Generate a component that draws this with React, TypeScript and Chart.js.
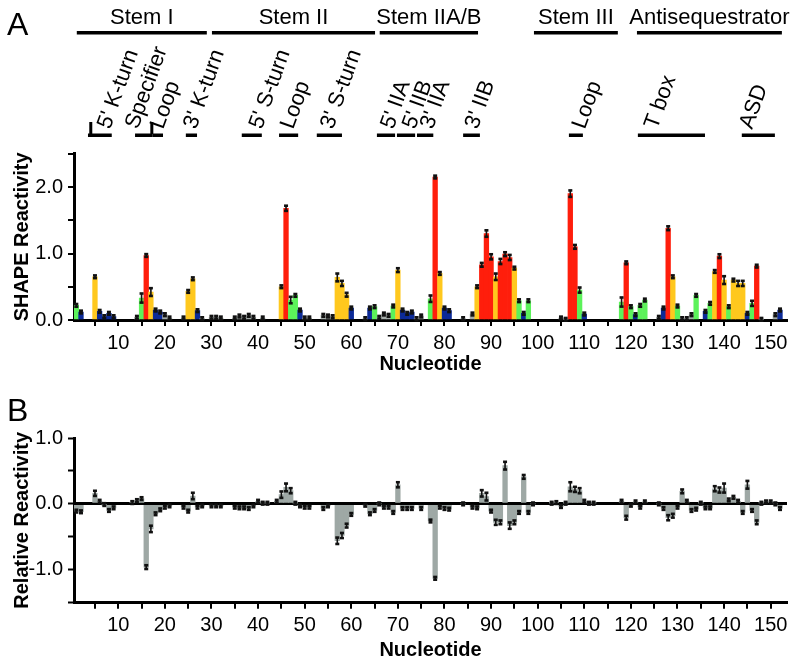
import React, { useEffect, useRef } from 'react';
import { Chart, registerables } from 'chart.js';
Chart.register(...registerables);

const FONT = "'Liberation Sans', Arial, Helvetica, sans-serif";

const nucleotides: string[] = Array.from({ length: 153 }, (_, i) => String(i + 1));

// Panel A: SHAPE reactivity per nucleotide (null = no data)
const shapeReactivity: (number | null)[] = [
  0.22, 0.12, null, null, 0.65, 0.13, 0.05, 0.10, 0.05, null,
  null, null, null, 0.04, 0.33, 0.97, 0.42, 0.15, 0.12, 0.08,
  0.03, null, null, 0.03, 0.43, 0.62, 0.14, 0.02, null, 0.04,
  0.04, 0.03, null, null, 0.03, 0.06, 0.04, 0.07, 0.04, null,
  0.03, null, null, null, 0.50, 1.68, 0.30, 0.37, 0.15, 0.03,
  0.03, null, null, 0.07, 0.06, 0.05, 0.64, 0.55, 0.38, 0.18,
  null, null, 0.02, 0.18, 0.20, 0.04, 0.09, 0.07, 0.21, 0.75,
  0.15, 0.10, 0.12, 0.02, 0.06, null, 0.32, 2.15, 0.70, 0.18,
  0.14, null, null, 0.02, null, 0.09, 0.50, 0.83, 1.30, 0.95,
  0.65, 0.88, 0.99, 0.94, 0.78, 0.29, 0.10, 0.29, null, null,
  null, null, null, null, 0.03, 0.01, 1.90, 1.10, 0.45, 0.09,
  null, null, null, null, null, null, null, 0.27, 0.86, 0.20,
  0.08, 0.22, 0.30, null, null, 0.04, 0.18, 1.38, 0.65, 0.21,
  0.02, 0.02, 0.08, 0.37, null, 0.13, 0.25, 0.73, 0.96, 0.60,
  0.20, 0.60, 0.55, 0.55, 0.10, 0.25, 0.81, 0.01, null, null,
  0.08, 0.15, null,
];

// reactivity class per nucleotide: R high, Y medium, G low, B very low, K unclassified
const reactivityClass =
  'GB--YBBBB-' + '---KGRYBBK' + 'K--KYYBK-K' + 'KK--KKKKK-' + 'K---YRGGBK' +
  'K--KKKYYYB' + '--KBGKKKGY' + 'BBBKK-GRYB' + 'B--K-KYRRR' + 'YRRRYGBG--' +
  '----KKRRGB' + '-------GRG' + 'BGG--KBRYG' + 'KKKG-BGYRY' + 'GYYYBGRK--' + 'KB-';

const classColors: Record<string, string> = {
  R: '#ff1e0c',
  Y: '#ffc81e',
  G: '#5cf25a',
  B: '#0c2a98',
  K: '#a3aba8',
  '-': '#a3aba8',
};

// Panel B: relative reactivity per nucleotide
const relativeReactivity: (number | null)[] = [
  -0.11, -0.12, null, null, 0.16, 0.04, -0.01, -0.10, -0.06, null,
  null, null, 0.02, 0.05, 0.08, -0.96, -0.38, -0.15, -0.09, -0.05,
  -0.03, null, null, -0.05, -0.11, 0.12, -0.05, -0.03, null, -0.03,
  -0.03, -0.03, null, null, -0.05, -0.06, -0.06, -0.07, -0.03, 0.04,
  0.01, 0.01, null, 0.04, 0.14, 0.25, 0.20, 0.01, -0.03, -0.05,
  -0.05, null, null, -0.07, -0.03, null, -0.56, -0.48, -0.33, -0.16,
  null, null, -0.02, -0.15, -0.10, 0.00, -0.05, -0.05, -0.13, 0.29,
  -0.07, -0.07, -0.07, null, -0.07, null, -0.26, -1.13, -0.05, -0.07,
  -0.08, null, null, 0.00, null, -0.05, -0.06, 0.16, 0.11, -0.11,
  -0.28, -0.28, 0.58, -0.33, -0.28, -0.13, 0.41, -0.13, 0.00, null,
  null, null, 0.01, 0.02, -0.04, 0.01, 0.26, 0.22, 0.20, 0.04,
  0.01, 0.01, null, null, null, null, null, 0.04, -0.21, -0.02,
  0.03, -0.05, 0.03, null, null, 0.00, -0.07, -0.21, -0.18, -0.05,
  0.19, 0.04, -0.10, -0.08, 0.01, -0.06, -0.06, 0.23, 0.21, 0.24,
  0.06, 0.10, 0.04, -0.13, 0.29, -0.10, -0.28, 0.01, 0.03, 0.03,
  0.00, -0.07, null,
];

const defaultError = 0.022;
// [nucleotide, error] for the larger error bars
const shapeErrorPairs: [number, number][] = [
  [15, 0.07], [17, 0.06], [46, 0.04], [47, 0.05], [57, 0.06], [58, 0.04], [59, 0.03],
  [70, 0.03], [77, 0.05], [88, 0.03], [89, 0.05], [90, 0.04], [91, 0.05], [92, 0.04],
  [93, 0.03], [94, 0.04], [107, 0.05], [108, 0.03], [109, 0.04], [118, 0.07], [128, 0.03],
  [139, 0.03], [140, 0.06], [143, 0.04], [144, 0.04], [146, 0.04],
];
const relativeErrorPairs: [number, number][] = [
  [5, 0.04], [16, 0.03], [17, 0.05], [26, 0.05], [45, 0.05], [46, 0.06], [47, 0.04],
  [57, 0.05], [58, 0.04], [59, 0.03], [70, 0.04], [88, 0.05], [89, 0.06], [91, 0.04],
  [92, 0.03], [93, 0.06], [94, 0.05], [95, 0.03], [97, 0.03], [107, 0.07], [108, 0.04],
  [109, 0.04], [119, 0.03], [128, 0.04], [129, 0.03], [131, 0.03], [138, 0.04],
  [139, 0.04], [140, 0.07], [145, 0.06], [147, 0.03],
];

// Domain annotations (nucleotide ranges)
const stemLabels = ['Stem I', 'Stem II', 'Stem IIA/B', 'Stem III', 'Antisequestrator'];
const stemStart = [1.1, 30.1, 66.1, 99.2, 121.3];
const stemEnd = [29.0, 65.1, 87.2, 117.2, 152.4];

const regionLabels = ["5' K-turn", 'Specifier', 'Loop', "3' K-turn", "5' S-turn", 'Loop', "3' S-turn",
  "5' IIA", "5' IIB", "3' IIA", "3' IIB", 'Loop', 'T box', 'ASD'];
const regionStart = [3.5, 13.6, 17.3, 24.5, 36.5, 44.5, 52.6, 65.5, 69.8, 74.1, 84.0, 106.7, 121.5, 143.8];
const regionEnd = [8.6, 17.3, 19.6, 26.9, 40.8, 48.6, 58.0, 69.4, 73.7, 77.6, 87.6, 109.7, 135.9, 150.9];
const regionAnchor = [8.2, 14.2, 19.6, 26.7, 40.8, 47.5, 56.1, 69.0, 73.7, 77.5, 87.1, 110.1, 125.6, 146.0];
const regionTicks = [4.1, 17.2];

function buildErrors(pairs: [number, number][]): number[] {
  const e = nucleotides.map(() => defaultError);
  pairs.forEach(([n, v]) => { e[n - 1] = v; });
  return e;
}

function errorBarPlugin(errors: number[]) {
  return {
    id: 'errorBars',
    afterDatasetsDraw(chart: any) {
      const meta = chart.getDatasetMeta(0);
      const ys = chart.scales.y;
      const ctx = chart.ctx;
      const data = chart.data.datasets[0].data as (number | null)[];
      ctx.save();
      ctx.fillStyle = '#111';
      data.forEach((v, i) => {
        if (v === null || v === undefined) return;
        const el = meta.data[i];
        if (!el) return;
        const x = el.x;
        const e = errors[i];
        const y1 = ys.getPixelForValue(v + e);
        const y2 = ys.getPixelForValue(v - e);
        ctx.fillRect(x - 0.8, y1, 1.6, y2 - y1);
        ctx.fillRect(x - 2, y1 - 1.2, 4, 2.6);
        ctx.fillRect(x - 2, y2 - 1.4, 4, 2.6);
      });
      ctx.restore();
    },
  };
}

function nucleotidePixel(chart: any, n: number) {
  const xs = chart.scales.x;
  const c0 = xs.getPixelForValue(0);
  const w = xs.getPixelForValue(1) - c0;
  return c0 + (n - 1) * w;
}

const annotationPlugin = {
  id: 'domainAnnotations',
  afterDraw(chart: any) {
    const ctx = chart.ctx;
    ctx.save();
    ctx.fillStyle = '#000';
    ctx.textBaseline = 'alphabetic';
    ctx.textAlign = 'left';
    ctx.font = `32px ${FONT}`;
    ctx.fillText('A', 7, 35);
    ctx.font = `22px ${FONT}`;
    ctx.textAlign = 'center';
    stemLabels.forEach((t, i) => {
      const a = nucleotidePixel(chart, stemStart[i]);
      const b = nucleotidePixel(chart, stemEnd[i]);
      ctx.fillRect(a, 31, b - a, 3.5);
      ctx.fillText(t, (a + b) / 2, 23.5);
    });
    ctx.textAlign = 'left';
    regionLabels.forEach((t, i) => {
      const a = nucleotidePixel(chart, regionStart[i]);
      const b = nucleotidePixel(chart, regionEnd[i]);
      ctx.fillRect(a, 133.5, b - a, 3.5);
      ctx.save();
      ctx.translate(nucleotidePixel(chart, regionAnchor[i]), 130);
      ctx.rotate((-70 * Math.PI) / 180);
      ctx.fillText(t, 0, 0);
      ctx.restore();
    });
    regionTicks.forEach((n) => {
      const x = nucleotidePixel(chart, n);
      ctx.fillRect(x - 1.5, 122, 3, 12);
    });
    ctx.restore();
  },
};

const panelBLabel = {
  id: 'panelB',
  afterDraw(chart: any) {
    const ctx = chart.ctx;
    ctx.save();
    ctx.fillStyle = '#000';
    ctx.font = `32px ${FONT}`;
    ctx.textAlign = 'left';
    ctx.textBaseline = 'alphabetic';
    ctx.fillText('B', 7, 44);
    ctx.restore();
  },
};

function xScale(height: number) {
  return {
    type: 'category' as const,
    offset: true,
    grid: {
      offset: false,
      drawOnChartArea: false,
      drawTicks: true,
      tickLength: 6,
      lineWidth: 2,
      color: (c: any) => ((c.index + 1) % 5 === 0 ? '#000' : 'rgba(0,0,0,0)'),
    },
    border: { display: true, color: '#000', width: 3 },
    ticks: {
      autoSkip: false,
      maxRotation: 0,
      minRotation: 0,
      padding: 5,
      color: '#000',
      font: { family: FONT, size: 20 },
      callback: (_v: any, i: number) => ((i + 1) % 10 === 0 ? String(i + 1) : ''),
    },
    title: {
      display: true,
      text: 'Nucleotide',
      color: '#000',
      font: { family: FONT, size: 20, weight: 'bold' as const },
      padding: { top: 0, bottom: 1 },
    },
    afterFit: (s: any) => {
      s.height = height;
      s.paddingLeft = 0;
      s.paddingRight = 0;
    },
  };
}

const tickLabel = (v: any) => {
  const n = Number(v);
  return Math.abs(n - Math.round(n)) < 1e-9 ? n.toFixed(1) : '';
};

export default function App() {
  const topRef = useRef<HTMLCanvasElement>(null);
  const botRef = useRef<HTMLCanvasElement>(null);

  useEffect(() => {
    const topColors = nucleotides.map((_, i) => classColors[reactivityClass[i]] || '#a3aba8');
    const c1 = new Chart(topRef.current as HTMLCanvasElement, {
      type: 'bar',
      data: {
        labels: nucleotides,
        datasets: [{
          data: shapeReactivity as any,
          backgroundColor: topColors,
          borderWidth: 0,
          barPercentage: 1,
          categoryPercentage: 1,
        }],
      },
      options: {
        responsive: false,
        devicePixelRatio: 1,
        animation: false,
        layout: { padding: { top: 153.75, right: 6, left: 0, bottom: 0 } },
        plugins: { legend: { display: false }, tooltip: { enabled: false } },
        scales: {
          x: xScale(57) as any,
          y: {
            min: 0,
            max: 2.5,
            ticks: {
              stepSize: 0.5,
              padding: 5,
              color: '#000',
              font: { family: FONT, size: 20 },
              callback: tickLabel,
            },
            grid: { drawOnChartArea: false, tickLength: 6, lineWidth: 2, color: '#000' },
            border: { display: true, color: '#000', width: 3 },
            title: {
              display: true,
              text: 'SHAPE Reactivity',
              color: '#000',
              font: { family: FONT, size: 20, weight: 'bold' },
              padding: { top: 10, bottom: 0 },
            },
            afterFit: (s: any) => {
              s.width = 74;
              s.paddingTop = 0;
              s.paddingBottom = 0;
            },
          } as any,
        },
      },
      plugins: [errorBarPlugin(buildErrors(shapeErrorPairs)), annotationPlugin],
    });

    const c2 = new Chart(botRef.current as HTMLCanvasElement, {
      type: 'bar',
      data: {
        labels: nucleotides,
        datasets: [{
          data: relativeReactivity as any,
          backgroundColor: '#9ea8a5',
          borderWidth: 0,
          barPercentage: 1,
          categoryPercentage: 1,
        }],
      },
      options: {
        responsive: false,
        devicePixelRatio: 1,
        animation: false,
        layout: { padding: { top: 61, right: 6, left: 0, bottom: 0 } },
        plugins: { legend: { display: false }, tooltip: { enabled: false } },
        scales: {
          x: xScale(60.3) as any,
          y: {
            min: -1.5,
            max: 1.0,
            ticks: {
              stepSize: 0.5,
              padding: 5,
              color: '#000',
              font: { family: FONT, size: 20 },
              callback: tickLabel,
            },
            grid: {
              drawOnChartArea: true,
              tickLength: 6,
              tickColor: '#000',
              tickWidth: 2,
              lineWidth: (c: any) => (c.tick && c.tick.value === 0 ? 3 : 1),
              color: (c: any) => (c.tick && c.tick.value === 0 ? '#000' : 'rgba(0,0,0,0)'),
            },
            border: { display: true, color: '#000', width: 3 },
            title: {
              display: true,
              text: 'Relative Reactivity',
              color: '#000',
              font: { family: FONT, size: 20, weight: 'bold' },
              padding: { top: 10, bottom: 0 },
            },
            afterFit: (s: any) => {
              s.width = 74;
              s.paddingTop = 0;
              s.paddingBottom = 0;
            },
          } as any,
        },
      },
      plugins: [errorBarPlugin(buildErrors(relativeErrorPairs)), panelBLabel],
    });

    return () => {
      c1.destroy();
      c2.destroy();
    };
  }, []);

  return (
    <div style={{ position: 'absolute', left: 0, top: 0, width: 793, height: 663, background: '#fff' }}>
      <canvas ref={topRef} width={793} height={377} style={{ position: 'absolute', left: 0, top: 0 }} />
      <canvas ref={botRef} width={793} height={286} style={{ position: 'absolute', left: 0, top: 377 }} />
    </div>
  );
}
